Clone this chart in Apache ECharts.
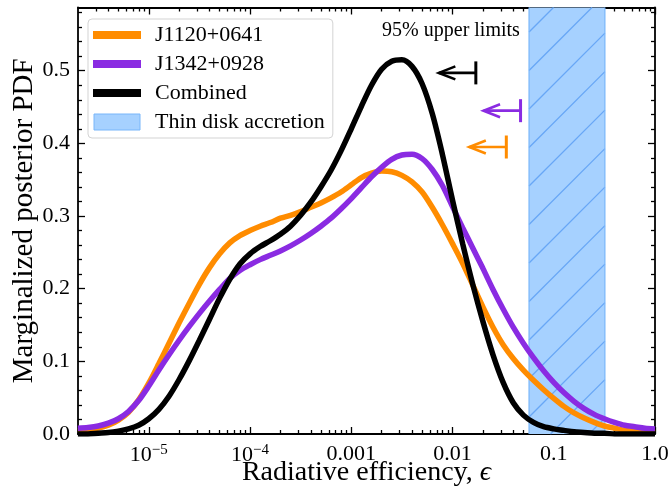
<!DOCTYPE html>
<html><head><meta charset="utf-8">
<script src="https://cdn.jsdelivr.net/npm/echarts@6/dist/echarts.min.js"></script>
<style>html,body{margin:0;padding:0;background:#fff}#c{width:668px;height:493px}</style>
</head><body><div id="c"></div>
<script>
const FONT = '"Liberation Serif", "DejaVu Serif", serif';

// ---- data: x is log10(radiative efficiency), read every 0.1 dex from -5.7 to 0 ----
const logEps = [-5.7, -5.6, -5.5, -5.4, -5.3, -5.2, -5.1, -5.0, -4.9, -4.8, -4.7, -4.6, -4.5, -4.4, -4.3, -4.2, -4.1, -4.0, -3.9, -3.8,
  -3.7, -3.6, -3.5, -3.4, -3.3, -3.2, -3.1, -3.0, -2.9, -2.8, -2.7, -2.6, -2.5, -2.4, -2.3, -2.2, -2.1, -2.0, -1.9, -1.8,
  -1.7, -1.6, -1.5, -1.4, -1.3, -1.2, -1.1, -1.0, -0.9, -0.8, -0.7, -0.6, -0.5, -0.4, -0.3, -0.2, -0.1, 0];

const orangeName = 'J1120+0641';
const orangePdf = [0.004, 0.005, 0.008, 0.012, 0.019, 0.030, 0.047, 0.070, 0.097, 0.125, 0.153, 0.180, 0.206, 0.229, 0.248, 0.263, 0.273, 0.280, 0.286, 0.291,
  0.297, 0.301, 0.306, 0.312, 0.318, 0.325, 0.333, 0.343, 0.353, 0.359, 0.362, 0.361, 0.356, 0.347, 0.333, 0.312, 0.288, 0.262, 0.235, 0.205,
  0.175, 0.147, 0.123, 0.104, 0.088, 0.074, 0.061, 0.049, 0.038, 0.029, 0.022, 0.016, 0.011, 0.008, 0.005, 0.004, 0.003, 0.002];

const purpleName = 'J1342+0928';
const purplePdf = [0.008, 0.009, 0.011, 0.015, 0.021, 0.031, 0.046, 0.066, 0.088, 0.109, 0.129, 0.148, 0.166, 0.183, 0.199, 0.214, 0.225, 0.233, 0.240, 0.246,
  0.252, 0.259, 0.267, 0.276, 0.286, 0.297, 0.310, 0.324, 0.339, 0.354, 0.367, 0.378, 0.384, 0.385, 0.379, 0.364, 0.342, 0.313, 0.284, 0.256,
  0.228, 0.199, 0.172, 0.147, 0.125, 0.105, 0.087, 0.071, 0.057, 0.045, 0.035, 0.027, 0.021, 0.016, 0.012, 0.010, 0.008, 0.007];

const blackName = 'Combined';
const blackPdf = [0.000, 0.000, 0.001, 0.002, 0.004, 0.007, 0.012, 0.021, 0.034, 0.052, 0.075, 0.101, 0.129, 0.158, 0.187, 0.213, 0.234, 0.248, 0.258, 0.266,
  0.275, 0.286, 0.301, 0.319, 0.340, 0.363, 0.390, 0.420, 0.451, 0.480, 0.502, 0.513, 0.515, 0.506, 0.482, 0.441, 0.385, 0.322, 0.262, 0.206,
  0.155, 0.109, 0.071, 0.043, 0.026, 0.016, 0.010, 0.007, 0.005, 0.003, 0.002, 0.001, 0.001, 0.000, 0.000, 0.000, 0.000, 0.000];

const bandName = 'Thin disk accretion';
const bandRange = [0.057, 0.32];

// 95% upper limits: orange, purple, black
const upperLimits = [0.034, 0.047, 0.017];
const upperLimitY = [0.395, 0.445, 0.497];
const upperLimitColors = ['#ff8c00', '#8a2be2', '#000000'];

const xMin = 2e-6, xMax = 1.0;
const yMin = 0, yMax = 0.587;
const xMajorTicks = [-5, -4, -3, -2, -1, 0];
const xTickLabels = ['{b|10}{s|\u22125}', '{b|10}{s|\u22124}', '0.001', '0.01', '0.1', '1.0'];
const yMajorTicks = [0, 0.1, 0.2, 0.3, 0.4, 0.5];
const yTickLabels = ['0.0', '0.1', '0.2', '0.3', '0.4', '0.5'];
const yMinorTicks = [0.02,0.04,0.06,0.08,0.12,0.14,0.16,0.18,0.22,0.24,0.26,0.28,0.32,0.34,0.36,0.38,0.42,0.44,0.46,0.48,0.52,0.54,0.56,0.58];

// minor ticks at 2..9 x 10^k
const xMinorTicks = [];
for (let k = -6; k <= -1; k++) for (let m = 2; m <= 9; m++) {
  const v = Math.log10(m * Math.pow(10, k));
  if (v > Math.log10(xMin) && v < 0) xMinorTicks.push(v);
}

const toPairs = (xs, ys) => xs.map((x, i) => [x, ys[i]]);
const lx0 = Math.log10(xMin), lx1 = Math.log10(xMax);

const tickStyle = {color: '#000', width: 1.3};
function xAxisDef(pos, ticks, len, showLine, labels) {
  return {
    type: 'value', position: pos, min: lx0, max: lx1,
    axisLine: {show: showLine, onZero: false, lineStyle: {color: '#000', width: 1.8}},
    axisTick: {show: true, inside: true, length: len, customValues: ticks, lineStyle: tickStyle},
    axisLabel: labels ? {
      show: true, customValues: xMajorTicks, margin: 9,
      formatter: v => xTickLabels[xMajorTicks.indexOf(Math.round(v))],
      fontFamily: FONT, fontSize: 22, color: '#000',
      rich: {b: {fontFamily: FONT, fontSize: 22, color: '#000'},
             s: {fontFamily: FONT, fontSize: 15, color: '#000', padding: [0, 0, 10, 0]}}
    } : {show: false},
    splitLine: {show: false},
    name: labels ? 'Radiative efficiency, {i|\u03f5}' : '',
    nameLocation: 'middle', nameGap: 25, nameMoveOverlap: false,
    nameTextStyle: {fontFamily: FONT, fontSize: 28, color: '#000',
      rich: {i: {fontFamily: FONT, fontSize: 28, fontStyle: 'italic', color: '#000'}}}
  };
}
function yAxisDef(pos, ticks, len, showLine, labels) {
  return {
    type: 'value', position: pos, min: yMin, max: yMax,
    axisLine: {show: showLine, onZero: false, lineStyle: {color: '#000', width: 1.8}},
    axisTick: {show: true, inside: true, length: len, customValues: ticks, lineStyle: tickStyle},
    axisLabel: labels ? {
      show: true, customValues: yMajorTicks, margin: 8,
      formatter: v => yTickLabels[yMajorTicks.indexOf(Math.round(v * 10) / 10)],
      fontFamily: FONT, fontSize: 22, color: '#000'
    } : {show: false},
    splitLine: {show: false},
    name: labels ? 'Marginalized posterior PDF' : '',
    nameLocation: 'middle', nameGap: 39, nameMoveOverlap: false,
    nameTextStyle: {fontFamily: FONT, fontSize: 29, color: '#000'}
  };
}

const bandFill = 'rgb(166,209,255)';
const bandEdge = 'rgb(120,182,250)';
const hatchColor = 'rgb(104,167,246)';

const option = {
  animation: false,
  backgroundColor: '#fff',
  grid: {left: 78, right: 13, top: 7.5, bottom: 59, containLabel: false, outerBoundsMode: 'none'},
  xAxis: [
    xAxisDef('bottom', xMajorTicks, 7, true, true),
    xAxisDef('bottom', xMinorTicks, 4, false, false),
    xAxisDef('top', xMajorTicks, 7, true, false),
    xAxisDef('top', xMinorTicks, 4, false, false)
  ],
  yAxis: [
    yAxisDef('left', yMajorTicks, 7, true, true),
    yAxisDef('left', yMinorTicks, 4, false, false),
    yAxisDef('right', yMajorTicks, 7, true, false),
    yAxisDef('right', yMinorTicks, 4, false, false)
  ],
  legend: {
    orient: 'vertical', left: 88, top: 19,
    padding: [5, 8, 5, 5], itemGap: 7, itemWidth: 48, itemHeight: 16,
    backgroundColor: 'rgba(255,255,255,0.85)', borderColor: '#d3d3d3', borderWidth: 1, borderRadius: 4,
    selectedMode: false,
    textStyle: {fontFamily: FONT, fontSize: 22, color: '#000', lineHeight: 22, padding: [0, 0, 0, 9]},
    itemStyle: {borderWidth: 0},
    data: [
      {name: orangeName, icon: 'path://M0,0H48V8H0Z'},
      {name: purpleName, icon: 'path://M0,0H48V8H0Z'},
      {name: blackName, icon: 'path://M0,0H48V8H0Z'},
      {name: bandName, icon: 'path://M0,0H46V16H0Z', itemStyle: {color: bandFill, borderColor: bandEdge, borderWidth: 1}}
    ]
  },
  graphic: [{
    type: 'text', x: 451, y: 31, z: 100,
    style: {text: '95% upper limits', fontFamily: FONT, fontSize: 20, fill: '#000', align: 'center', verticalAlign: 'middle'}
  }],
  series: [
    {
      name: bandName, type: 'custom', z: 1,
      itemStyle: {color: bandFill, borderColor: bandEdge, borderWidth: 1},
      data: [[bandRange[0], bandRange[1]]],
      renderItem: function (params, api) {
        const x1 = api.coord([Math.log10(api.value(0)), 0])[0];
        const x2 = api.coord([Math.log10(api.value(1)), 0])[0];
        const cs = params.coordSys;
        const top = cs.y, bot = cs.y + cs.height;
        const children = [{type: 'rect', shape: {x: x1, y: top, width: x2 - x1, height: bot - top},
          style: {fill: bandFill}}];
        const sp = 38.5, c0 = 22;
        const kStart = Math.floor((x1 + top - c0) / sp), kEnd = Math.ceil((x2 + bot - c0) / sp);
        for (let k = kStart; k <= kEnd; k++) {
          const c = c0 + k * sp;
          const xs = Math.max(x1, c - bot), xe = Math.min(x2, c - top);
          if (xe > xs) children.push({type: 'line', shape: {x1: xs, y1: c - xs, x2: xe, y2: c - xe},
            style: {stroke: hatchColor, lineWidth: 1.3}});
        }
        children.push({type: 'line', shape: {x1: x1, y1: top, x2: x1, y2: bot}, style: {stroke: bandEdge, lineWidth: 1.2}});
        children.push({type: 'line', shape: {x1: x2, y1: top, x2: x2, y2: bot}, style: {stroke: bandEdge, lineWidth: 1.2}});
        return {type: 'group', children: children};
      }
    },
    {name: orangeName, type: 'line', z: 3, data: toPairs(logEps, orangePdf), smooth: 0.3, showSymbol: false,
     color: '#ff8c00', lineStyle: {color: '#ff8c00', width: 5.5}},
    {name: purpleName, type: 'line', z: 4, data: toPairs(logEps, purplePdf), smooth: 0.3, showSymbol: false,
     color: '#8a2be2', lineStyle: {color: '#8a2be2', width: 5.5}},
    {name: blackName, type: 'line', z: 5, data: toPairs(logEps, blackPdf), smooth: 0.3, showSymbol: false,
     color: '#000', lineStyle: {color: '#000', width: 5.5}},
    {
      name: 'upper limits', type: 'custom', z: 6,
      data: upperLimits.map((u, i) => [Math.log10(u), upperLimitY[i], i]),
      renderItem: function (params, api) {
        const p = api.coord([api.value(0), api.value(1)]);
        const col = upperLimitColors[api.value(2)];
        const L = 37, hx = 16.5, hy = 6.5, bh = 11.5;
        return {type: 'group', children: [
          {type: 'line', shape: {x1: p[0] - L, y1: p[1], x2: p[0], y2: p[1]}, style: {stroke: col, lineWidth: 2.6}},
          {type: 'line', shape: {x1: p[0], y1: p[1] - bh, x2: p[0], y2: p[1] + bh}, style: {stroke: col, lineWidth: 3}},
          {type: 'polyline', shape: {points: [[p[0] - L + hx, p[1] - hy], [p[0] - L, p[1]], [p[0] - L + hx, p[1] + hy]]},
           style: {stroke: col, lineWidth: 2.6, fill: null}}
        ]};
      }
    }
  ]
};
const chart = echarts.init(document.getElementById('c'), null, {renderer: 'canvas'});
chart.setOption(option);
</script></body></html>
